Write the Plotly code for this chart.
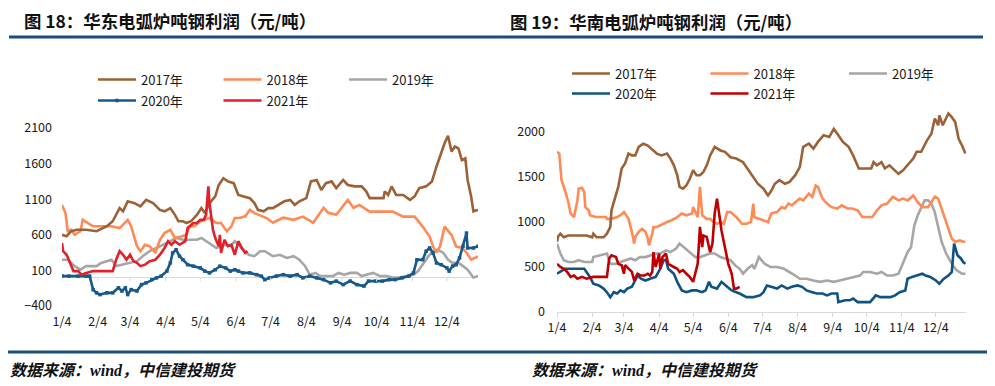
import plotly.graph_objects as go

W, H = 995, 386
PAGE_OFFSET = 8  # the browser page draws the figure 8px in from the top-left corner


def fx(p):
    return (p - PAGE_OFFSET) / W


def fy(p):
    return 1 - (p - PAGE_OFFSET) / H


# ---------------- data ----------------
month_ticks = [4, 35, 63, 94, 124, 155, 185, 216, 247, 277, 308, 338]
tick_labels = ["1/4", "2/4", "3/4", "4/4", "5/4", "6/4", "7/4", "8/4", "9/4", "10/4", "11/4", "12/4"]
series_names = ["2017年", "2018年", "2019年", "2020年", "2021年"]

# 华东 (East China)
east_2017_days = [4, 8, 12, 17, 25, 34, 43, 48, 54, 57, 61, 67, 72, 77, 83, 89, 93, 98, 102, 105, 109, 112, 116, 121,
                  125, 128, 132, 137, 140, 144, 148, 153, 157, 161, 167, 171, 174, 179, 183, 187, 192, 197, 202, 206,
                  210, 216, 220, 225, 229, 233, 238, 242, 248, 252, 258, 264, 268, 271, 277, 283, 284, 287, 290, 294,
                  300, 306, 310, 314, 320, 325, 329, 333, 336, 339, 342, 345, 348, 351, 354, 356, 359, 361, 365]
east_2017_vals = [600, 580, 650, 670, 670, 650, 720, 790, 975, 930, 1070, 1045, 1000, 1090, 1045, 950, 930, 975, 880,
                  790, 790, 765, 790, 880, 975, 905, 1045, 1140, 1300, 1395, 1350, 1325, 1160, 1140, 1115, 1045, 950,
                  930, 975, 975, 1020, 1070, 1090, 1020, 1070, 1115, 1350, 1370, 1230, 1325, 1350, 1255, 1370, 1300,
                  1280, 1280, 1210, 1115, 1115, 1115, 1210, 1160, 1280, 1160, 1160, 1090, 1140, 1255, 1280, 1350, 1560,
                  1745, 1885, 1990, 1770, 1840, 1815, 1650, 1675, 1370, 1140, 930, 950]

east_2018_days = [4, 7, 9, 12, 15, 20, 22, 27, 31, 40, 47, 54, 58, 61, 64, 69, 72, 76, 80, 85, 89, 93, 98, 102, 108,
                  112, 115, 119, 124, 128, 132, 138, 142, 147, 151, 154, 158, 163, 167, 171, 176, 182, 187, 196, 205,
                  213, 222, 231, 235, 242, 252, 257, 262, 271, 283, 291, 300, 310, 317, 323, 326, 329, 332, 336, 342,
                  346, 351, 355, 359, 365]
east_2018_vals = [1020, 905, 650, 670, 600, 650, 810, 765, 720, 720, 720, 695, 765, 810, 720, 440, 370, 460, 440, 345,
                  530, 625, 670, 555, 580, 600, 720, 720, 790, 810, 835, 765, 765, 650, 720, 835, 835, 860, 950, 905,
                  870, 830, 770, 840, 810, 855, 770, 980, 910, 880, 1090, 980, 1020, 925, 925, 925, 855, 855, 715, 575,
                  435, 350, 435, 715, 600, 435, 420, 350, 250, 295]

east_2019_days = [4, 9, 15, 20, 25, 34, 38, 43, 47, 51, 57, 63, 69, 74, 80, 86, 92, 98, 103, 109, 115, 121, 125, 129,
                  134, 138, 144, 150, 154, 160, 166, 171, 176, 180, 187, 193, 199, 205, 210, 215, 219, 224, 228, 234,
                  239, 244, 249, 254, 260, 264, 268, 274, 280, 286, 291, 297, 303, 309, 313, 317, 322, 326, 330, 335,
                  339, 343, 348, 352, 356, 361, 365]
east_2019_vals = [250, 250, 160, 110, 160, 160, 205, 230, 250, 160, 180, 205, 230, 300, 370, 415, 460, 510, 555, 530,
                  530, 530, 555, 510, 460, 415, 460, 440, 510, 415, 320, 300, 370, 370, 300, 320, 275, 300, 250, 160,
                  40, 65, 20, 20, 20, 65, 40, 65, 65, 20, 40, 65, 20, 20, 0, 0, 20, 40, 90, 180, 300, 370, 390, 345,
                  250, 205, 205, 160, 110, 0, 20]

east_2020_days = [4, 10, 18, 25, 28, 31, 34, 37, 43, 48, 53, 56, 59, 61, 64, 69, 73, 77, 82, 86, 90, 95, 98, 100, 103,
                  106, 109, 113, 118, 124, 128, 132, 137, 141, 146, 150, 154, 157, 161, 167, 173, 177, 180, 184, 190,
                  196, 202, 208, 213, 219, 225, 231, 237, 242, 248, 254, 260, 266, 270, 276, 282, 288, 293, 299, 305,
                  309, 312, 317, 320, 323, 326, 329, 333, 338, 340, 343, 346, 349, 352, 355, 356, 361, 365]
east_2020_vals = [20, 20, 20, 20, 20, -170, -215, -240, -215, -215, -145, -190, -145, -240, -170, -190, -100, -75, -30,
                  -5, 20, 90, 205, 345, 390, 300, 250, 180, 160, 135, 90, 65, 110, 160, 135, 90, 110, 90, 65, 65, 40,
                  20, -30, -5, 20, 40, 20, 40, -5, 20, -5, -30, -75, -50, -100, -50, -100, -120, -50, -50, -50, -30,
                  -30, -5, 20, 65, 250, 250, 370, 415, 345, 205, 180, 135, 90, 160, 180, 275, 440, 625, 415, 415, 440]

east_2021_days = [4, 5, 8, 11, 14, 18, 21, 25, 31, 40, 48, 51, 54, 57, 60, 63, 66, 69, 72, 76, 80, 85, 89, 93, 96, 99,
                  102, 106, 111, 113, 118, 121, 124, 127, 129, 131, 132, 135, 137, 140, 141, 142, 145, 148, 151, 154,
                  157, 160, 163, 165]
east_2021_vals = [485, 370, 320, 205, 90, 90, 40, 65, 90, 90, 90, 250, 370, 320, 250, 320, 230, 205, 160, 180, 230, 250,
                  320, 415, 510, 460, 510, 460, 510, 695, 765, 765, 810, 810, 880, 1280, 1045, 670, 555, 440, 600, 345,
                  530, 440, 460, 320, 510, 415, 345, 370]

# 华南 (South China)
south_2017_days = [4, 5, 7, 10, 14, 21, 30, 35, 36, 39, 45, 48, 51, 52, 56, 58, 61, 64, 67, 70, 73, 76, 80, 84, 87, 92,
                   96, 101, 104, 107, 110, 112, 115, 118, 121, 124, 127, 130, 133, 136, 139, 143, 148, 152, 157, 162,
                   168, 172, 177, 181, 186, 190, 193, 196, 200, 205, 209, 214, 218, 221, 226, 230, 234, 239, 244, 248,
                   252, 256, 261, 265, 270, 273, 277, 281, 283, 286, 290, 293, 297, 302, 305, 309, 313, 318, 321, 325,
                   330, 334, 337, 340, 341, 344, 349, 352, 355, 358, 361, 364]
south_2017_vals = [780, 840, 870, 830, 850, 850, 850, 830, 870, 830, 830, 870, 945, 1130, 1315, 1390, 1595, 1650, 1760,
                   1740, 1740, 1835, 1870, 1850, 1815, 1760, 1740, 1760, 1705, 1630, 1520, 1390, 1370, 1405, 1480, 1575,
                   1520, 1520, 1555, 1630, 1740, 1835, 1795, 1780, 1720, 1705, 1665, 1595, 1500, 1425, 1370, 1295, 1350,
                   1425, 1465, 1425, 1445, 1520, 1610, 1835, 1870, 1815, 1890, 1965, 1945, 2035, 1965, 1890, 1835, 1740,
                   1595, 1595, 1595, 1595, 1665, 1630, 1665, 1595, 1630, 1575, 1535, 1575, 1630, 1705, 1780, 1780, 1905,
                   1980, 2150, 2075, 2185, 2075, 2205, 2165, 2110, 1925, 1850, 1760]

south_2018_days = [4, 6, 7, 8, 11, 14, 16, 19, 22, 23, 26, 28, 29, 32, 33, 38, 42, 47, 48, 52, 57, 60, 63, 67, 70, 72,
                   73, 76, 79, 82, 84, 85, 88, 89, 92, 97, 101, 105, 110, 114, 118, 123, 124, 126, 128, 130, 132, 136,
                   139, 142, 145, 148, 151, 154, 157, 160, 162, 167, 171, 175, 177, 178, 183, 187, 190, 193, 198, 202,
                   205, 208, 211, 214, 218, 221, 226, 229, 232, 234, 238, 242, 246, 251, 255, 260, 264, 269, 273, 277,
                   282, 286, 290, 295, 300, 305, 309, 313, 318, 322, 326, 331, 334, 337, 340, 343, 346, 349, 352, 355,
                   359, 362, 364]
south_2018_vals = [1780, 1760, 1610, 1465, 1350, 1220, 1095, 1055, 1240, 1370, 1380, 1335, 1165, 1130, 1075, 1055, 1055,
                   1055, 1035, 1035, 1055, 1075, 1110, 1035, 890, 760, 835, 890, 925, 890, 815, 740, 870, 945, 945, 980,
                   1000, 1020, 1055, 1095, 1075, 1095, 1165, 1110, 1055, 1390, 1075, 1035, 1035, 1000, 980, 1000, 980,
                   1110, 1110, 1075, 1055, 980, 980, 1000, 1205, 1055, 1035, 1020, 1000, 1095, 1110, 1165, 1150, 1205,
                   1185, 1220, 1260, 1240, 1315, 1280, 1405, 1390, 1260, 1205, 1165, 1150, 1185, 1150, 1150, 1130, 1055,
                   1055, 1055, 1130, 1185, 1205, 1280, 1240, 1260, 1240, 1295, 1220, 1165, 1165, 1220, 1280, 1260, 1150,
                   1035, 945, 815, 780, 795, 780, 780]

south_2019_days = [4, 7, 10, 14, 19, 23, 28, 35, 36, 42, 48, 51, 56, 60, 64, 69, 73, 77, 82, 86, 91, 95, 100, 104, 109,
                   112, 117, 121, 126, 130, 135, 139, 143, 148, 152, 157, 161, 165, 168, 172, 176, 178, 182, 184, 187,
                   192, 198, 204, 209, 214, 218, 224, 230, 236, 242, 248, 253, 259, 265, 271, 274, 280, 286, 290, 295,
                   300, 305, 309, 313, 316, 319, 322, 325, 328, 331, 334, 337, 340, 343, 347, 352, 356, 361, 364]
south_2019_vals = [760, 650, 575, 555, 555, 575, 555, 555, 610, 630, 650, 535, 535, 555, 575, 595, 575, 610, 610, 630,
                   650, 650, 685, 665, 705, 760, 705, 665, 610, 610, 630, 650, 650, 610, 595, 575, 520, 480, 425, 480,
                   520, 480, 610, 575, 535, 500, 500, 480, 445, 405, 370, 370, 350, 335, 350, 335, 350, 370, 390, 405,
                   445, 445, 425, 445, 405, 405, 425, 535, 665, 720, 965, 1075, 1165, 1240, 1240, 1205, 1110, 925, 780,
                   650, 535, 465, 425, 425]

south_2020_days = [4, 7, 11, 16, 22, 28, 30, 33, 36, 41, 45, 48, 51, 54, 57, 60, 63, 66, 70, 75, 78, 82, 86, 91, 95, 98,
                   100, 102, 107, 110, 114, 118, 123, 127, 132, 135, 138, 140, 145, 149, 154, 158, 162, 165, 171, 177,
                   183, 186, 189, 193, 198, 202, 207, 211, 216, 220, 224, 229, 233, 238, 242, 246, 251, 252, 258, 262,
                   265, 269, 274, 280, 285, 289, 293, 298, 302, 306, 311, 313, 317, 321, 326, 329, 333, 338, 341, 345,
                   349, 352, 354, 357, 360, 362, 364]
south_2020_vals = [425, 445, 480, 480, 480, 480, 445, 390, 315, 295, 260, 220, 165, 220, 205, 240, 220, 260, 280, 405,
                   370, 350, 370, 390, 480, 575, 580, 480, 425, 335, 240, 220, 240, 240, 220, 240, 335, 280, 260, 335,
                   280, 240, 220, 205, 165, 165, 185, 220, 295, 280, 260, 295, 260, 280, 295, 280, 240, 220, 205, 205,
                   185, 205, 205, 110, 130, 130, 150, 110, 110, 110, 185, 165, 165, 165, 185, 220, 240, 370, 390, 405,
                   425, 405, 390, 350, 315, 370, 405, 445, 760, 630, 595, 555, 535]

south_2021_days = [4, 7, 10, 13, 16, 19, 22, 26, 30, 36, 42, 48, 50, 52, 56, 58, 61, 63, 64, 67, 70, 72, 75, 78, 81, 84,
                   86, 88, 89, 91, 94, 95, 97, 100, 102, 107, 110, 112, 115, 118, 121, 124, 126, 128, 130, 132, 133,
                   136, 138, 139, 141, 143, 145, 147, 149, 152, 155, 158, 160, 162, 165]
south_2021_vals = [535, 500, 480, 445, 390, 405, 370, 390, 370, 390, 390, 390, 595, 630, 610, 535, 520, 425, 520, 480,
                   445, 350, 425, 405, 405, 425, 405, 445, 665, 500, 650, 480, 610, 650, 535, 500, 480, 445, 465, 425,
                   390, 335, 445, 535, 945, 720, 850, 835, 720, 665, 760, 1095, 1260, 1075, 905, 720, 535, 425, 260,
                   260, 280]

# ---------------- styling ----------------
east_colors = ["#9C6136", "#FF8A55", "#A6A6A6", "#17598C", "#E0202B"]
south_colors = ["#9C6136", "#FF8A55", "#A6A6A6", "#0F5284", "#C00000"]
FONT = "Noto Sans CJK SC"

fig = go.Figure()

east = [(east_2017_days, east_2017_vals), (east_2018_days, east_2018_vals), (east_2019_days, east_2019_vals),
        (east_2020_days, east_2020_vals), (east_2021_days, east_2021_vals)]
south = [(south_2017_days, south_2017_vals), (south_2018_days, south_2018_vals), (south_2019_days, south_2019_vals),
         (south_2020_days, south_2020_vals), (south_2021_days, south_2021_vals)]

order = [2, 1, 0, 3, 4]  # drawing order (back to front)
for i in order:
    d, v = east[i]
    kw = dict(mode="lines")
    if i == 3:
        kw = dict(mode="lines+markers", marker=dict(symbol="square", size=3.5, color=east_colors[i]))
    fig.add_trace(go.Scatter(x=d, y=v, name=series_names[i], line=dict(color=east_colors[i], width=2.6),
                             xaxis="x", yaxis="y", legend="legend" if i < 3 else "legend2",
                             legendrank=i, **kw))
for i in order:
    d, v = south[i]
    fig.add_trace(go.Scatter(x=d, y=v, name=series_names[i], mode="lines",
                             line=dict(color=south_colors[i], width=2.6),
                             xaxis="x2", yaxis="y2", legend="legend3" if i < 3 else "legend4",
                             legendrank=i))

tickfont = dict(family=FONT, size=12.5, color="#1a1a1a")

fig.update_layout(
    xaxis=dict(domain=[fx(62), fx(478)], range=[4, 365], tickvals=month_ticks, ticktext=tick_labels,
               showgrid=False, zeroline=False, showline=False, ticks="", tickfont=tickfont,
               ticklabelstandoff=6, anchor="y", automargin=False),
    yaxis=dict(domain=[fy(306), fy(128)], range=[-400, 2100], tickvals=[-400, 100, 600, 1100, 1600, 2100],
               showgrid=False, zeroline=True, zerolinecolor="#d9d9d9", zerolinewidth=1, showline=False,
               ticks="", tickfont=tickfont, ticklabelstandoff=9, anchor="x", automargin=False),
    xaxis2=dict(domain=[fx(557), fx(966)], range=[4, 364.5], tickvals=month_ticks, ticktext=tick_labels,
                showgrid=False, zeroline=False, showline=True, linecolor="#d9d9d9", linewidth=1,
                ticks="outside", ticklen=4, tickcolor="#d9d9d9", tickfont=tickfont, anchor="y2",
                automargin=False),
    yaxis2=dict(domain=[fy(312), fy(109.5)], range=[0, 2250], tickvals=[0, 500, 1000, 1500, 2000],
                showgrid=False, zeroline=False, showline=False, ticks="", tickfont=tickfont,
                ticklabelstandoff=11, anchor="x2", automargin=False),
)

# tick marks hanging from the zero line of the left chart
for t in month_ticks:
    fig.add_shape(type="line", xref="x", yref="y", x0=t, x1=t, y0=0, y1=-56,
                  line=dict(color="#d9d9d9", width=1))

legend_common = dict(orientation="h", xanchor="left", yanchor="top", bgcolor="rgba(0,0,0,0)",
                     font=dict(family=FONT, size=13, color="#1a1a1a"), itemwidth=38,
                     entrywidthmode="pixels", traceorder="normal")
fig.update_layout(
    legend=dict(x=fx(93), y=fy(64.5), entrywidth=72.5, **legend_common),
    legend2=dict(x=fx(93), y=fy(85.5), entrywidth=72.5, **legend_common),
    legend3=dict(x=fx(567), y=fy(58.5), entrywidth=85.5, **legend_common),
    legend4=dict(x=fx(567), y=fy(78.5), entrywidth=85.5, **legend_common),
)

# headers and rules
rule = "#1B4F7A"
fig.add_shape(type="line", xref="paper", yref="paper", x0=fx(9), x1=fx(983), y0=fy(37), y1=fy(37),
              line=dict(color=rule, width=3))
fig.add_shape(type="line", xref="paper", yref="paper", x0=fx(8), x1=fx(990), y0=fy(352), y1=fy(352),
              line=dict(color=rule, width=3))

title_font = dict(family=FONT, size=17.4, color="#111111")
fig.add_annotation(x=fx(22), y=fy(20), xref="paper", yref="paper", xanchor="left", yanchor="middle",
                   text="<b>图 18：华东电弧炉吨钢利润（元/吨）</b>", showarrow=False, font=title_font)
fig.add_annotation(x=fx(508), y=fy(21), xref="paper", yref="paper", xanchor="left", yanchor="middle",
                   text="<b>图 19：华南电弧炉吨钢利润（元/吨）</b>", showarrow=False, font=title_font)

src = ("<b><i>数据来源：<span style='font-family:Liberation Serif'>wind</span>，中信建投期货</i></b>")
foot_font = dict(family=FONT, size=16, color="#111111")
fig.add_annotation(x=fx(8), y=fy(369), xref="paper", yref="paper", xanchor="left", yanchor="middle",
                   text=src, showarrow=False, font=foot_font)
fig.add_annotation(x=fx(530), y=fy(369), xref="paper", yref="paper", xanchor="left", yanchor="middle",
                   text=src, showarrow=False, font=foot_font)

fig.update_layout(width=W, height=H, autosize=False,
                  margin=dict(l=0, r=0, t=0, b=0, pad=0, autoexpand=False),
                  paper_bgcolor="white", plot_bgcolor="white", showlegend=True)

fig.write_html("out.html")
